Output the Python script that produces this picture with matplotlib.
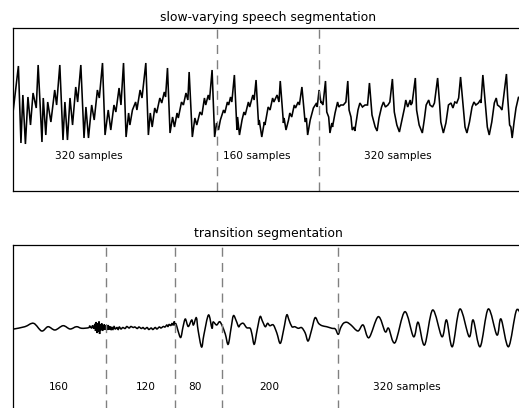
import matplotlib
matplotlib.use("Agg")
import matplotlib.pyplot as plt
from matplotlib.path import Path
from matplotlib.patches import PathPatch
import numpy as np

# ---------------- data ----------------
top_title = "slow-varying speech segmentation"
bottom_title = "transition segmentation"

top_boundaries = [320, 480]          # samples
top_labels = ["320 samples", "160 samples", "320 samples"]
top_label_pos = [118, 382, 603]

bottom_boundaries = [160, 280, 360, 560]
bottom_labels = ["160", "120", "80", "200", "320 samples"]
bottom_label_pos = [79, 228, 314, 442, 679]

top_n = 800
bottom_n = 880

# slow-varying voiced speech (sample index, amplitude)
top_t = [0, 8, 12, 15, 19, 23, 27, 31, 36, 39, 45, 47, 51, 54, 59, 65, 68, 73, 78, 81,
         85, 89, 93, 98, 101, 106, 111, 114, 118, 123, 127, 132, 135, 140, 144, 149, 153, 158, 161, 166,
         169, 173, 177, 181, 183, 187, 192, 194, 199, 202, 208, 212, 215, 218, 222, 225, 230, 233, 237, 239,
         242, 246, 250, 253, 257, 259, 264, 267, 271, 274, 276, 281, 285, 288, 293, 296, 300, 302, 306, 308,
         312, 316, 319, 322, 325, 330, 332, 336, 338, 341, 343, 347, 351, 352, 355, 359, 362, 364, 369, 371,
         376, 378, 381, 385, 386, 390, 394, 395, 400, 403, 407, 409, 414, 417, 419, 424, 425, 428, 432, 434,
         437, 441, 443, 447, 449, 453, 458, 460, 462, 466, 471, 476, 477, 480, 483, 484, 486, 490, 492, 495,
         497, 500, 501, 505, 509, 511, 514, 518, 522, 525, 527, 530, 532, 535, 536, 541, 544, 548, 552, 556,
         559, 563, 568, 571, 574, 578, 581, 584, 588, 591, 595, 598, 602, 606, 610, 614, 616, 619, 623, 624,
         626, 631, 633, 637, 642, 645, 648, 652, 654, 658, 661, 666, 669, 671, 675, 679, 683, 687, 690, 693,
         696, 699, 702, 706, 709, 712, 716, 720, 723, 726, 730, 733, 734, 737, 741, 744, 747, 751, 755, 758,
         760, 764, 767, 769, 774, 776, 779, 781, 783, 786, 789, 793, 800]
top_amp = [-6, 38, -39, 9, -40, 7, -21, 11, -4, 39, -38, 6, -31, 2, -18, 14, -1, 39, -36, 2,
           -36, 6, -21, 17, 2, 39, -34, -3, -34, -1, -16, 14, 6, 41, -31, -6, -26, -1, -8, 16,
           -1, 41, -33, -9, -21, -6, 2, -6, 14, 6, 41, -31, -9, -23, -4, -9, 6, 1, 12, 7,
           36, -29, -13, -23, -9, -14, 2, -1, 11, 4, 32, -33, -14, -21, -8, -11, 6, -1, 9, 4,
           34, -33, -19, -26, -16, -6, -9, 2, -1, 7, 2, 29, -26, -13, -31, -16, -8, -11, 2, -3,
           9, 4, 24, -21, -16, -33, -18, -21, -3, -6, 6, 2, 9, 2, 23, -19, -14, -26, -16, -9,
           -13, -1, -4, 2, -1, 17, -18, -14, -31, -16, -4, 1, -3, 14, 1, 2, -1, 23, -8, -13,
           -29, -19, -23, -9, 2, -3, -1, -1, 2, 23, -6, -13, -26, -23, -27, -6, 1, -3, -1, -1,
           21, -11, -23, -27, -14, -3, 2, -3, -1, 2, 25, -8, -21, -28, -16, -4, 4, -3, 4, -1,
           1, 26, -6, -21, -29, -16, -1, 4, -1, -3, 1, 26, 1, -18, -29, -19, -1, 1, -4, 2,
           1, 6, 27, -1, -23, -29, -18, -3, 2, -1, 1, 4, 1, 29, -1, -23, -31, -18, 1, 6,
           -1, -3, -6, 4, 30, 6, -21, -23, -34, -18, -4, 7, 4]

# transition: silence -> noise -> onset -> voiced (sample index, amplitude)
bot_t = [1, 20, 35, 49, 60, 72, 86, 98, 109, 118, 130, 132, 135, 137, 139, 141, 142, 143, 145, 146,
         147, 148, 149, 150, 151, 153, 154, 155, 156, 157, 158, 160, 161, 162, 163, 164, 165, 167, 169, 170,
         172, 174, 176, 179, 181, 183, 186, 189, 193, 196, 200, 203, 207, 210, 214, 217, 221, 224, 227, 231,
         234, 238, 241, 245, 248, 252, 255, 259, 262, 265, 267, 269, 272, 274, 276, 278, 279, 281, 284, 289,
         293, 297, 302, 308, 311, 316, 319, 325, 329, 337, 343, 345, 351, 356, 360, 366, 371, 376, 380, 385,
         389, 392, 397, 403, 409, 412, 416, 421, 426, 430, 435, 439, 443, 449, 455, 461, 467, 472, 476, 481,
         486, 492, 498, 504, 509, 515, 521, 527, 533, 541, 550, 556, 561, 565, 570, 576, 583, 595, 604, 614,
         630, 642, 648, 659, 676, 691, 699, 710, 724, 740, 748, 758, 771, 787, 794, 806, 820, 835, 842, 855,
         869, 880]
bot_amp = [-1.5, 0.8, 4.2, -3.5, 0.8, -2.5, 1.8, -1.5, 0.8, -0.8, -0.2, 1.5, -0.5, 2, -1, 3.5, -3.5, 5.5, -5.5, 4.5,
           -4, 6, -6.5, 3.5, -2.5, 4, -3.5, 2.5, -2.5, 3, -2, 2, -2.5, 1.5, -2.5, 2.5, -2, 1, -2.5, 0.5,
           -2, 1, -1.5, 0, -2, 0.5, -1.5, 0, -1, 1, -0.5, 1, 0, 0.5, -1, 0.5, -1, 0, -1.5, 0,
           -2, -0.5, -2, 0, -1.5, 0.5, -0.5, 1, 0.5, 2.5, 1, 3, 2, 4, 2.5, 6, 2.5, 3.5, -2.5, -10,
           0.5, 8.5, 1, 7.5, 2.5, 9.8, -2.5, -19.5, -7.5, 12.5, -0.8, 5.5, 2.5, 5.8, 2.5, -6.5, -16.8, -0.5, 11.8, 6.5,
           0.8, 3, 4.2, -0.2, -0.8, -6.5, -16.8, -2.5, 10.8, 6.5, 0.8, 4.2, 1.8, 2.5, -5.5, -15.8, -1.5, 12.5, 7.5, 0.8,
           0.8, -0.8, -0.2, -5.5, -13.5, -2.5, 9.8, 4.2, 1.8, 0.8, -0.8, -1.5, -6.8, -0.5, 4.2, 5.2, 2.5, -3.5, 2.5, -10.2,
           10.8, -4.2, -0.8, -15.2, 15.8, -9.2, 5.2, -17.5, 17.5, -9.2, 7.5, -19.2, 18.5, -9.2, 7.5, -19.2, 18.5, -7.5, 8.5, -19.2,
           17.5, 5]


def smooth_line(ax, x, y, **kw):
    """Draw a smooth (Catmull-Rom / cubic Bezier) curve through the points."""
    p = np.column_stack([x, y]).astype(float)
    verts = [tuple(p[0])]
    codes = [Path.MOVETO]
    n = len(p)
    for i in range(n - 1):
        p0 = p[i - 1] if i > 0 else p[i]
        p1 = p[i]
        p2 = p[i + 1]
        p3 = p[i + 2] if i + 2 < n else p[i + 1]
        c1 = p1 + (p2 - p0) / 6.0
        c2 = p2 - (p3 - p1) / 6.0
        verts += [tuple(c1), tuple(c2), tuple(p2)]
        codes += [Path.CURVE4] * 3
    patch = PathPatch(Path(verts, codes), fill=False, **kw)
    ax.add_patch(patch)


W, H = 519, 408
fig = plt.figure(figsize=(W / 100, H / 100), dpi=100)

left_px, width_px = 13.3, 509.7
ax1 = fig.add_axes([left_px / W, (H - 190.7) / H, width_px / W, 162.4 / H])
ax2 = fig.add_axes([left_px / W, (H - 409.5) / H, width_px / W, 164.5 / H])

dash_kw = dict(color="#808080", lw=1.0, linestyle=(0, (6.5, 4.5)))
txt_kw = dict(fontsize=7.6, ha="center", va="baseline", color="black")

# top panel
ax1.plot(top_t, top_amp, color="black", lw=1.15, solid_joinstyle="miter")
for b in top_boundaries:
    ax1.axvline(b, **dash_kw)
for lab, xp in zip(top_labels, top_label_pos):
    ax1.text(xp, -55.3, lab, **txt_kw)
ax1.set_xlim(0, top_n)
ax1.set_ylim(-86.7, 75.7)
ax1.set_title(top_title, fontsize=8.9, pad=5.5)

# bottom panel
smooth_line(ax2, bot_t, bot_amp, color="black", lw=1.1)
for b in bottom_boundaries:
    ax2.axvline(b, **dash_kw)
for lab, xp in zip(bottom_labels, bottom_label_pos):
    ax2.text(xp, -62.5, lab, **txt_kw)
ax2.set_xlim(0, bottom_n)
ax2.set_ylim(-82, 82.5)
ax2.set_title(bottom_title, fontsize=8.9, pad=5.5)

for ax in (ax1, ax2):
    ax.set_xticks([])
    ax.set_yticks([])
    for s in ax.spines.values():
        s.set_linewidth(0.9)
        s.set_color("black")

fig.savefig("out.png", dpi=100)
